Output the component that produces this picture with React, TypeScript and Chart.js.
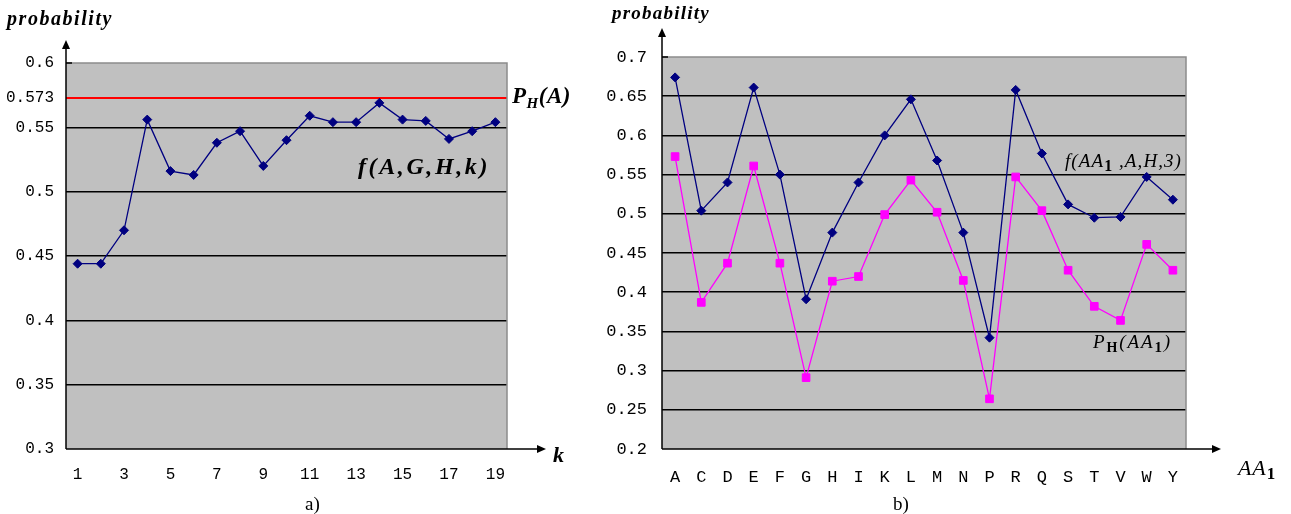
import React, { useEffect, useRef } from 'react';
import { Chart, registerables } from 'chart.js';

Chart.register(...registerables);

// ---------- data ----------
const kLabels: string[] = ['1', '2', '3', '4', '5', '6', '7', '8', '9', '10', '11', '12', '13', '14', '15', '16', '17', '18', '19'];
const fAGHk: number[] = [0.444, 0.444, 0.470, 0.556, 0.516, 0.513, 0.538, 0.547, 0.520, 0.540, 0.559, 0.554, 0.554, 0.569, 0.556, 0.555, 0.541, 0.547, 0.554];
const PH_A = 0.573;
const leftTicks: number[] = [0.3, 0.35, 0.4, 0.45, 0.5, 0.55, 0.573, 0.6];

const aaLabels: string[] = ['A', 'C', 'D', 'E', 'F', 'G', 'H', 'I', 'K', 'L', 'M', 'N', 'P', 'R', 'Q', 'S', 'T', 'V', 'W', 'Y'];
const fAA1: number[] = [0.674, 0.504, 0.540, 0.661, 0.550, 0.391, 0.476, 0.540, 0.600, 0.646, 0.568, 0.476, 0.342, 0.658, 0.577, 0.512, 0.495, 0.496, 0.547, 0.518];
const PH_AA1: number[] = [0.573, 0.387, 0.437, 0.561, 0.437, 0.291, 0.414, 0.420, 0.499, 0.543, 0.502, 0.415, 0.264, 0.547, 0.504, 0.428, 0.382, 0.364, 0.461, 0.428];
const rightTicks: number[] = [0.2, 0.25, 0.3, 0.35, 0.4, 0.45, 0.5, 0.55, 0.6, 0.65, 0.7];

// ---------- helpers ----------
const SERIF = '"Liberation Serif", "Times New Roman", serif';
const MONO = '"Liberation Mono", "DejaVu Sans Mono", monospace';
const PLOT_BG = '#c0c0c0';
const EDGE = '#8c8c8c';

type Run = { t: string; font: string; dy?: number };

function drawRuns(ctx: CanvasRenderingContext2D, runs: Run[], x: number, y: number, width?: number) {
  ctx.save();
  ctx.textAlign = 'left';
  ctx.textBaseline = 'alphabetic';
  ctx.fillStyle = '#000';
  const anyCtx = ctx as any;
  anyCtx.letterSpacing = '0px';
  let total = 0;
  let n = 0;
  for (const r of runs) {
    ctx.font = r.font;
    total += ctx.measureText(r.t).width;
    n += r.t.length;
  }
  let ls = 0;
  if (width && n > 1) ls = (width - total) / n;
  let cx = x;
  for (const r of runs) {
    ctx.font = r.font;
    for (const ch of r.t) {
      ctx.fillText(ch, cx, y + (r.dy || 0));
      cx += ctx.measureText(ch).width + ls;
    }
  }
  ctx.restore();
}

function arrowLine(ctx: CanvasRenderingContext2D, x1: number, y1: number, x2: number, y2: number) {
  ctx.save();
  ctx.strokeStyle = '#000';
  ctx.fillStyle = '#000';
  ctx.lineWidth = 1.5;
  const ang = Math.atan2(y2 - y1, x2 - x1);
  const len = 9;
  const half = 4;
  const bx = x2 - Math.cos(ang) * len;
  const by = y2 - Math.sin(ang) * len;
  ctx.beginPath();
  ctx.moveTo(x1, y1);
  ctx.lineTo(bx, by);
  ctx.stroke();
  ctx.beginPath();
  ctx.moveTo(x2, y2);
  ctx.lineTo(bx - Math.sin(ang) * half, by + Math.cos(ang) * half);
  ctx.lineTo(bx + Math.sin(ang) * half, by - Math.cos(ang) * half);
  ctx.closePath();
  ctx.fill();
  ctx.restore();
}

function makeFramePlugin(yTip: number, xTip: number, texts: (ctx: CanvasRenderingContext2D, chart: any) => void) {
  return {
    id: 'frame',
    beforeDraw(chart: any) {
      const { ctx, chartArea } = chart;
      ctx.save();
      ctx.fillStyle = PLOT_BG;
      ctx.fillRect(chartArea.left, chartArea.top, chartArea.right - chartArea.left, chartArea.bottom - chartArea.top);
      ctx.restore();
    },
    beforeDatasetsDraw(chart: any) {
      const { ctx, chartArea } = chart;
      const { left, right, top, bottom } = chartArea;
      ctx.save();
      ctx.strokeStyle = EDGE;
      ctx.lineWidth = 1.5;
      ctx.beginPath();
      ctx.moveTo(left, top);
      ctx.lineTo(right, top);
      ctx.lineTo(right, bottom);
      ctx.stroke();
      ctx.strokeStyle = '#000';
      ctx.beginPath();
      ctx.moveTo(left, top);
      ctx.lineTo(left + 6, top);
      ctx.stroke();
      ctx.restore();
      arrowLine(ctx, left, bottom, left, yTip);
      arrowLine(ctx, left, bottom, xTip, bottom);
    },
    afterDraw(chart: any) {
      texts(chart.ctx, chart);
    },
  };
}

function yTickFmt(v: any) {
  return String(Number(Number(v).toFixed(3)));
}

function LeftChart() {
  const ref = useRef<HTMLCanvasElement>(null);
  useEffect(() => {
    const canvas = ref.current;
    if (!canvas) return;
    const plugin = makeFramePlugin(40, 546, (ctx) => {
      const bi = (s: number) => `italic bold ${s}px ${SERIF}`;
      drawRuns(ctx, [{ t: 'probability', font: bi(20) }], 7, 25, 106);
      drawRuns(ctx, [
        { t: 'P', font: bi(23) },
        { t: 'H', font: bi(15), dy: 5 },
        { t: '(A)', font: bi(23) },
      ], 512, 103, 59);
      drawRuns(ctx, [{ t: 'f(A,G,H,k)', font: bi(24) }], 358, 174, 132);
      drawRuns(ctx, [{ t: 'k', font: bi(22) }], 553, 462);
      drawRuns(ctx, [{ t: 'a)', font: `${19}px ${SERIF}` }], 305, 510);
    });
    const chart = new Chart(canvas, {
      type: 'line',
      data: {
        labels: kLabels,
        datasets: [
          {
            label: 'f(A,G,H,k)',
            data: fAGHk,
            borderColor: '#000080',
            backgroundColor: '#000080',
            borderWidth: 1.3,
            pointStyle: 'rectRot',
            pointRadius: 4.5,
            pointBorderWidth: 1,
            tension: 0,
          },
        ],
      },
      options: {
        animation: false,
        responsive: false,
        maintainAspectRatio: false,
        events: [],
        layout: { padding: { left: 0, right: 93, top: 63, bottom: 0 } },
        plugins: { legend: { display: false }, tooltip: { enabled: false } },
        scales: {
          x: {
            type: 'category',
            offset: true,
            grid: { display: false, drawTicks: false, tickLength: 0 },
            border: { display: false },
            ticks: {
              autoSkip: false,
              maxRotation: 0,
              padding: 16,
              color: '#000',
              font: { family: MONO, size: 16 },
              callback: (_v: any, i: number) => (i % 2 === 0 ? kLabels[i] : ''),
            },
            afterFit: (s: any) => { s.height = 65; },
          },
          y: {
            min: 0.3,
            max: 0.6,
            afterBuildTicks: (s: any) => { s.ticks = leftTicks.map((v) => ({ value: v })); },
            grid: {
              drawTicks: false,
              tickLength: 0,
              color: (c: any) => {
                const v = c.tick ? c.tick.value : 0;
                if (Math.abs(v - PH_A) < 1e-6) return '#ff0000';
                if (v === 0.3 || v === 0.6) return 'rgba(0,0,0,0)';
                return '#000';
              },
              lineWidth: (c: any) => {
                const v = c.tick ? c.tick.value : 0;
                return Math.abs(v - PH_A) < 1e-6 ? 2 : 1.6;
              },
            },
            border: { display: false },
            ticks: {
              padding: 12,
              color: '#000',
              font: { family: MONO, size: 16 },
              callback: yTickFmt,
            },
            afterFit: (s: any) => { s.width = 66; },
          },
        },
      },
      plugins: [plugin],
    } as any);
    return () => chart.destroy();
  }, []);
  return <canvas ref={ref} width={600} height={514} style={{ position: 'absolute', left: 0, top: 0, width: 600, height: 514 }} />;
}

function RightChart() {
  const ref = useRef<HTMLCanvasElement>(null);
  useEffect(() => {
    const canvas = ref.current;
    if (!canvas) return;
    const plugin = makeFramePlugin(28, 621, (ctx) => {
      const bi = (s: number) => `italic bold ${s}px ${SERIF}`;
      const it = (s: number) => `italic ${s}px ${SERIF}`;
      const bd = (s: number) => `bold ${s}px ${SERIF}`;
      drawRuns(ctx, [{ t: 'probability', font: bi(19) }], 12, 19, 98);
      drawRuns(ctx, [
        { t: 'f(AA', font: it(19) },
        { t: '1', font: bd(16), dy: 4 },
        { t: ' ,A,H,3)', font: it(19) },
      ], 465, 167, 117);
      drawRuns(ctx, [
        { t: 'P', font: it(19) },
        { t: 'H', font: bd(14), dy: 4 },
        { t: '(AA', font: it(19) },
        { t: '1', font: bd(15), dy: 4 },
        { t: ')', font: it(19) },
      ], 493, 348, 79);
      drawRuns(ctx, [
        { t: 'AA', font: it(22) },
        { t: '1', font: bd(17), dy: 4 },
      ], 638, 475, 38);
      drawRuns(ctx, [{ t: 'b)', font: `${19}px ${SERIF}` }], 293, 510);
    });
    const chart = new Chart(canvas, {
      type: 'line',
      data: {
        labels: aaLabels,
        datasets: [
          {
            label: 'f(AA1,A,H,3)',
            data: fAA1,
            borderColor: '#000080',
            backgroundColor: '#000080',
            borderWidth: 1.3,
            pointStyle: 'rectRot',
            pointRadius: 4.5,
            pointBorderWidth: 1,
            tension: 0,
          },
          {
            label: 'PH(AA1)',
            data: PH_AA1,
            borderColor: '#ff00ff',
            backgroundColor: '#ff00ff',
            borderWidth: 1.3,
            pointStyle: 'rect',
            pointRadius: 5.4,
            pointBorderWidth: 1,
            tension: 0,
          },
        ],
      },
      options: {
        animation: false,
        responsive: false,
        maintainAspectRatio: false,
        events: [],
        layout: { padding: { left: 0, right: 105, top: 57, bottom: 0 } },
        plugins: { legend: { display: false }, tooltip: { enabled: false } },
        scales: {
          x: {
            type: 'category',
            offset: true,
            grid: { display: false, drawTicks: false, tickLength: 0 },
            border: { display: false },
            ticks: {
              autoSkip: false,
              maxRotation: 0,
              padding: 18,
              color: '#000',
              font: { family: MONO, size: 17 },
            },
            afterFit: (s: any) => { s.height = 65; },
          },
          y: {
            min: 0.2,
            max: 0.7,
            afterBuildTicks: (s: any) => { s.ticks = rightTicks.map((v) => ({ value: v })); },
            grid: {
              drawTicks: false,
              tickLength: 0,
              color: (c: any) => {
                const v = c.tick ? c.tick.value : 0;
                if (v === 0.2 || v === 0.7) return 'rgba(0,0,0,0)';
                return '#000';
              },
              lineWidth: 1.6,
            },
            border: { display: false },
            ticks: {
              padding: 15,
              color: '#000',
              font: { family: MONO, size: 17 },
              callback: yTickFmt,
            },
            afterFit: (s: any) => { s.width = 62; },
          },
        },
      },
      plugins: [plugin],
    } as any);
    return () => chart.destroy();
  }, []);
  return <canvas ref={ref} width={691} height={514} style={{ position: 'absolute', left: 600, top: 0, width: 691, height: 514 }} />;
}

export default function App() {
  return (
    <div style={{ position: 'fixed', left: 0, top: 0, width: 1291, height: 514, background: '#fff', overflow: 'hidden' }}>
      <LeftChart />
      <RightChart />
    </div>
  );
}
